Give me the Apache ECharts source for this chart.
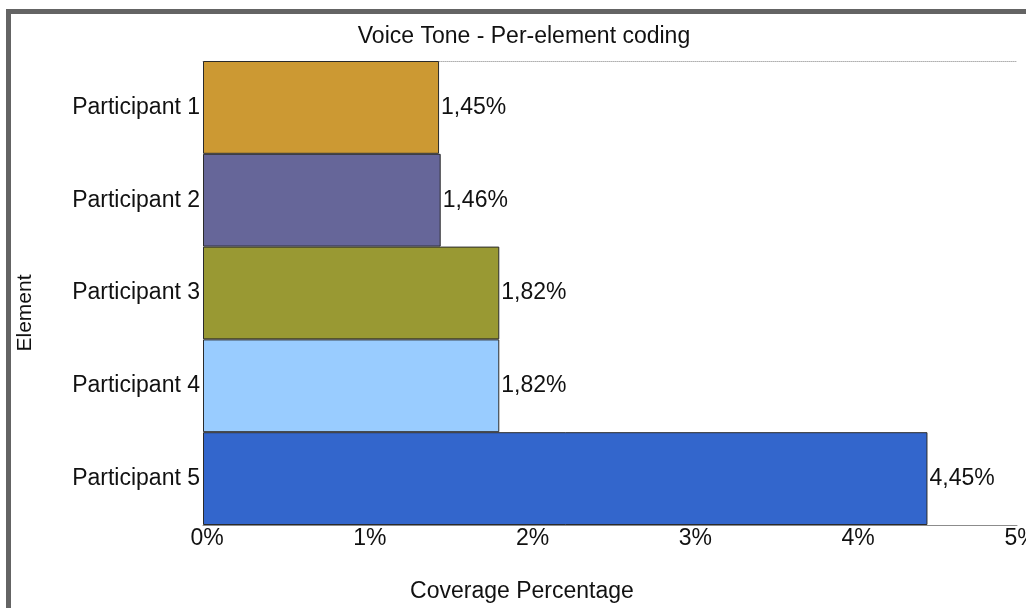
<!DOCTYPE html>
<html>
<head>
<meta charset="utf-8">
<title>Voice Tone - Per-element coding</title>
<script src="https://cdn.jsdelivr.net/npm/echarts@6/dist/echarts.min.js"></script>
<style>
  html, body { margin: 0; padding: 0; background: #ffffff; }
  #chart { width: 1026px; height: 608px; }
</style>
</head>
<body>
<div id="chart"></div>
<script>
// Participants (top to bottom) and their coverage of the "Voice Tone" element, in percent
const participants = ['Participant 1', 'Participant 2', 'Participant 3', 'Participant 4', 'Participant 5'];
const coverage = [1.45, 1.46, 1.82, 1.82, 4.45];
const barColors = ['#cc9933', '#666699', '#999933', '#99ccff', '#3366cc'];
const xTicks = [0, 1, 2, 3, 4, 5];

const FONT = '"Liberation Sans", Arial, sans-serif';
const FS = 23;
const fmtPct = v => String(v).replace('.', ',') + '%';

const chart = echarts.init(document.getElementById('chart'), null, { renderer: 'canvas' });

chart.setOption({
  backgroundColor: '#ffffff',
  animation: false,
  title: {
    text: 'Voice Tone - Per-element coding',
    left: 519,
    top: 20,
    textAlign: 'center',
    textStyle: { fontFamily: FONT, fontSize: FS, fontWeight: 'normal', color: '#111111' }
  },
  grid: { left: 203, right: 9, top: 61, bottom: 83, containLabel: false, outerBoundsMode: 'none' },
  xAxis: [
    {
      type: 'value',
      position: 'bottom',
      min: xTicks[0],
      max: xTicks[xTicks.length - 1],
      interval: 1,
      axisLine: { show: true, lineStyle: { color: '#8c8c8c', width: 1 } },
      axisTick: { show: false },
      splitLine: { show: false },
      axisLabel: {
        margin: 2,
        formatter: v => v + '%',
        fontFamily: FONT, fontSize: FS, color: '#111111',
        padding: [0, 0, 0, 8]
      }
    },
    {
      type: 'value',
      position: 'top',
      min: xTicks[0],
      max: xTicks[xTicks.length - 1],
      interval: 1,
      axisLine: { show: true, lineStyle: { color: '#b0b0b0', width: 1, type: 'dotted' } },
      axisTick: { show: false },
      axisLabel: { show: false },
      splitLine: { show: false }
    }
  ],
  yAxis: {
    type: 'category',
    data: participants,
    inverse: true,
    axisLine: { show: false },
    axisTick: { show: false },
    splitLine: { show: false },
    axisLabel: { margin: 3, fontFamily: FONT, fontSize: FS, color: '#111111' }
  },
  series: [{
    type: 'bar',
    xAxisIndex: 0,
    barCategoryGap: 0,
    barWidth: '100%',
    data: coverage.map((v, i) => ({
      value: v,
      itemStyle: { color: barColors[i] }
    })),
    itemStyle: { borderColor: '#2a2a2a', borderWidth: 1 },
    label: {
      show: true,
      position: 'right',
      distance: 2,
      formatter: p => fmtPct(p.value),
      fontFamily: FONT, fontSize: FS, color: '#111111'
    }
  }],
  graphic: [
    // frame edges along the top and left
    { type: 'rect', shape: { x: 6, y: 9, width: 1020, height: 5 }, style: { fill: '#646464' }, silent: true },
    { type: 'rect', shape: { x: 6, y: 9, width: 5, height: 599 }, style: { fill: '#646464' }, silent: true },
    // axis titles
    {
      type: 'text', x: 522, y: 592,
      style: { text: 'Coverage Percentage', fontFamily: FONT, fontSize: FS, fill: '#111111', align: 'center', verticalAlign: 'middle' },
      silent: true
    },
    {
      type: 'text', x: 25, y: 313, rotation: Math.PI / 2,
      style: { text: 'Element', fontFamily: FONT, fontSize: 21, fill: '#111111', align: 'center', verticalAlign: 'middle' },
      silent: true
    }
  ]
});
</script>
</body>
</html>
